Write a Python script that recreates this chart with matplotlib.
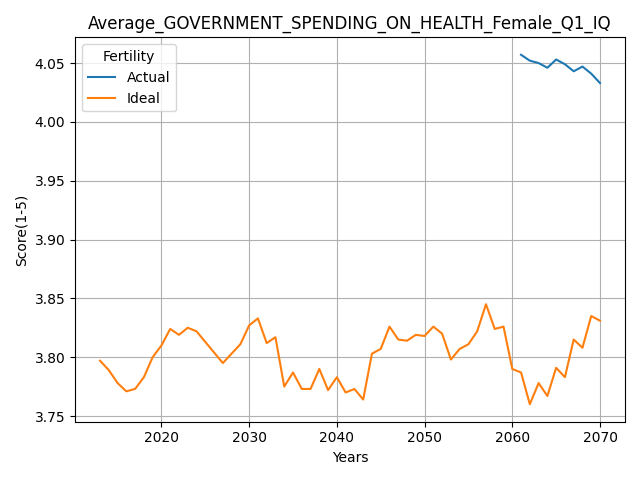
import matplotlib
matplotlib.use("Agg")
import matplotlib.pyplot as plt

ideal_years = list(range(2013, 2071))
ideal = [3.797, 3.789, 3.778, 3.771, 3.773, 3.783, 3.800, 3.810, 3.824, 3.819,
         3.825, 3.822, 3.813, 3.804, 3.795, 3.803, 3.811, 3.827, 3.833, 3.812,
         3.817, 3.775, 3.787, 3.773, 3.773, 3.790, 3.772, 3.783, 3.770, 3.773,
         3.764, 3.803, 3.807, 3.826, 3.815, 3.814, 3.819, 3.818, 3.826, 3.820,
         3.798, 3.807, 3.811, 3.822, 3.845, 3.824, 3.826, 3.790, 3.787, 3.760,
         3.778, 3.767, 3.791, 3.783, 3.815, 3.808, 3.835, 3.831]
actual_years = list(range(2061, 2071))
actual = [4.057, 4.052, 4.050, 4.046, 4.053, 4.049, 4.043, 4.047, 4.041, 4.033]

fig, ax = plt.subplots(figsize=(6.4, 4.8), dpi=100)
ax.plot(actual_years, actual, label="Actual")
ax.plot(ideal_years, ideal, label="Ideal")
ax.set_title("Average_GOVERNMENT_SPENDING_ON_HEALTH_Female_Q1_IQ")
ax.set_xlabel("Years")
ax.set_ylabel("Score(1-5)")
ax.grid(True)
ax.legend(title="Fertility", loc="upper left")
fig.tight_layout()
fig.savefig("out.png")
